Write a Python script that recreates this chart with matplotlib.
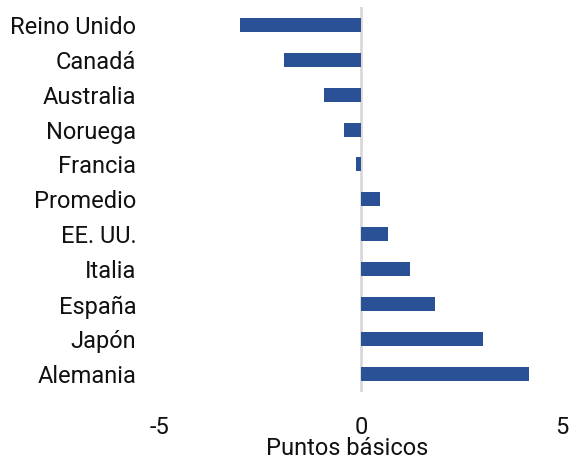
import matplotlib.pyplot as plt

plt.rcParams["font.family"] = ["Roboto", "DejaVu Sans"]

countries = ["Reino Unido", "Canadá", "Australia", "Noruega", "Francia",
             "Promedio", "EE. UU.", "Italia", "España", "Japón", "Alemania"]
values = [-3.02, -1.92, -0.91, -0.42, -0.12, 0.47, 0.67, 1.23, 1.83, 3.04, 4.18]

fig = plt.figure(figsize=(5.7, 4.61), dpi=100)
ax = fig.add_axes([0.2807, 0.1497, 0.7053, 0.8351])

pos = list(range(len(countries)))
ax.barh(pos, values, height=0.4, color="#2a5196", zorder=3)
ax.axvline(0, color="#d9d9d9", lw=2, zorder=2)

ax.set_ylim(len(countries) - 0.5, -0.5)
ax.set_xlim(-5, 5)
ax.set_xticks([-5, 0, 5])
ax.set_xticklabels(["-5", "0", "5"])
ax.set_yticks(pos)
ax.set_yticklabels(countries)

for s in ax.spines.values():
    s.set_visible(False)
ax.tick_params(axis="both", length=0, labelsize=17, colors="#111111")
ax.tick_params(axis="y", pad=17)
ax.tick_params(axis="x", pad=17)
ax.set_xlabel("Puntos básicos", fontsize=17, color="#111111")
ax.xaxis.set_label_coords(0.465, -0.118)

fig.savefig("out.png", dpi=100)
